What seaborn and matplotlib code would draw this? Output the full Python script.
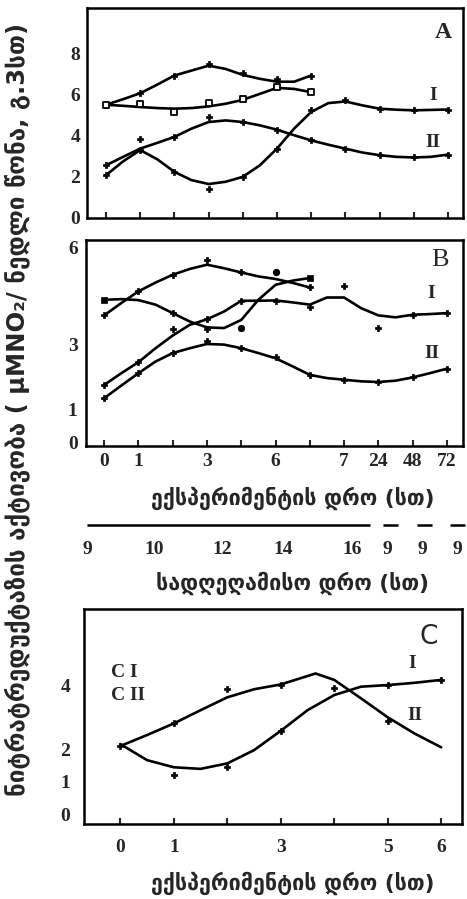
import matplotlib
matplotlib.use("Agg")
import matplotlib.pyplot as plt
import seaborn as sns

sns.set_style("white")
plt.rcParams["font.family"] = ["DejaVu Sans"]

# ---- panel A : time-course of nitrate reductase activity ----
a_grid_short = [0, 0.5, 1, 1.5, 2, 2.5, 3, 3.5, 4, 4.5, 5, 5.5, 6]
a_grid_long = [0, 0.5, 1, 1.5, 2, 2.5, 3, 3.5, 4, 4.5, 5, 5.5, 6, 6.5, 7, 7.5, 8, 8.5, 9, 9.5, 10]
a_top_line = [5.50, 5.77, 6.06, 6.48, 6.92, 7.16, 7.40, 7.24, 6.95, 6.76, 6.62, 6.62, 6.92]
a_open_line = [5.50, 5.45, 5.39, 5.34, 5.31, 5.34, 5.42, 5.55, 5.74, 6.03, 6.32, 6.27, 6.11]
a_I_line = [2.08, 2.75, 3.30, 2.85, 2.24, 1.84, 1.65, 1.76, 2.00, 2.56, 3.37, 4.34, 5.15,
            5.58, 5.66, 5.47, 5.31, 5.26, 5.23, 5.25, 5.27]
a_II_line = [2.56, 2.97, 3.37, 3.65, 3.94, 4.34, 4.66, 4.74, 4.66, 4.50, 4.29, 4.02, 3.77,
             3.56, 3.37, 3.18, 3.05, 2.97, 2.94, 2.97, 3.08]
a_pts_short = [0, 1, 2, 3, 4, 5, 6]
a_pts_long = [0, 1, 2, 3, 4, 5, 6, 7, 8, 9, 10]
a_top_pts = [5.50, 6.06, 6.92, 7.48, 7.05, 6.76, 6.92]
a_open_pts = [5.50, 5.55, 5.15, 5.58, 5.77, 6.35, 6.11]
a_I_pts = [2.08, 3.29, 2.24, 1.39, 2.00, 3.37, 5.23, 5.71, 5.31, 5.23, 5.27]
a_II_pts = [2.56, 3.84, 3.94, 4.90, 4.66, 4.29, 3.77, 3.37, 3.05, 2.94, 3.08]
a_yticks = [0, 2, 4, 6, 8]

# ---- panel B ----
b_top_line = [3.90, 4.28, 4.64, 4.91, 5.15, 5.33, 5.46, 5.35, 5.22, 5.10, 5.02, 4.90, 4.76]
b_sq_line = [4.38, 4.40, 4.37, 4.23, 3.97, 3.71, 3.53, 3.51, 3.76, 4.38, 4.84, 4.97, 5.05]
b_I_line = [1.76, 2.12, 2.46, 2.89, 3.28, 3.61, 3.78, 4.02, 4.35, 4.35, 4.36, 4.30, 4.23,
            4.45, 4.45, 4.12, 3.90, 3.84, 3.92, 3.94, 3.97]
b_II_line = [1.35, 1.74, 2.12, 2.48, 2.74, 2.89, 3.02, 3.00, 2.89, 2.74, 2.58, 2.33, 2.07,
             1.97, 1.92, 1.87, 1.85, 1.89, 1.99, 2.12, 2.26]
b_top_pts = [3.90, 4.64, 5.15, 5.61, 5.22, 5.22, 4.76]
b_sq_idx = [2, 3]
b_sq_pts = [3.97, 3.49]
b_sq_ends_idx = [0, 6]
b_sq_ends = [4.38, 5.05]
b_dot_idx = [4, 5]
b_dot_pts = [3.51, 5.22]
b_I_pts = [1.76, 2.46, 3.49, 3.78, 4.35, 4.33, 4.15, 4.79, 3.51, 3.92, 3.97]
b_II_pts = [1.35, 2.12, 2.74, 3.12, 2.89, 2.62, 2.07, 1.92, 1.85, 1.99, 2.26]
b_yticks = [0, 1, 3, 6]
exp_hours = ["0", "1", "", "3", "", "6", "", "7", "24", "48", "72"]
day_hours = ["9", "10", "12", "14", "16", "9", "9", "9"]
day_pos = [-0.5, 1.45, 3.43, 5.21, 7.22, 8.24, 9.26, 10.28]

# ---- panel C ----
c_grid = [0, 0.5, 1, 1.5, 2, 2.5, 3, 3.5, 4, 4.5, 5, 5.5, 6]
c_I_line = [2.17, 1.67, 1.45, 1.40, 1.57, 1.98, 2.58, 3.22, 3.69, 3.95, 4.00, 4.07, 4.16]
c_II_x = [0, 0.5, 1, 1.5, 2, 2.5, 3, 3.5, 3.65, 4, 4.5, 5, 5.5, 6]
c_II_line = [2.11, 2.45, 2.81, 3.22, 3.62, 3.87, 4.02, 4.28, 4.36, 4.16, 3.59, 3.00, 2.50, 2.07]
c_I_idx = [0, 1, 2, 3, 4, 5, 6]
c_I_pts = [2.10, 1.21, 1.45, 2.58, 3.90, 4.00, 4.16]
c_II_idx = [1, 2, 3, 5]
c_II_pts = [2.81, 3.87, 4.00, 2.88]
c_yticks = [0, 1, 2, 4]
c_hours = ["0", "1", "", "3", "", "5", "6"]

W, H = 467, 899
fig = plt.figure(figsize=(W / 100, H / 100), dpi=100)


def rect(left, top, right, bottom):
    return [left / W, 1 - bottom / H, (right - left) / W, (bottom - top) / H]


num_font = dict(family="Liberation Serif", weight="bold", size=14)
geo_font = dict(family="DejaVu Sans", weight="bold", size=15.5)
LW = 1.9


def curve(ax, x, y):
    sns.lineplot(x=x, y=y, ax=ax, color="black", linewidth=LW, sort=False,
                 estimator=None, solid_joinstyle="round", solid_capstyle="round")


def marks(ax, x, y, marker="+", s=28, lw=1.5, fc="black"):
    sns.scatterplot(x=x, y=y, ax=ax, marker=marker, s=s, color="black",
                    facecolor=fc, edgecolor="black", linewidth=lw, zorder=5)


def frame(ax):
    for sp in ax.spines.values():
        sp.set_visible(True)
        sp.set_linewidth(1.8)
        sp.set_color("black")
    ax.tick_params(axis="x", direction="in", length=4, width=1.5, bottom=True)
    ax.tick_params(axis="y", length=0)
    ax.set_xlabel("")
    ax.set_ylabel("")


# Panel A
axA = fig.add_axes(rect(87, 8, 463, 218))
curve(axA, a_grid_short, a_top_line)
curve(axA, a_grid_short, a_open_line)
curve(axA, a_grid_long, a_I_line)
curve(axA, a_grid_long, a_II_line)
marks(axA, a_pts_short, a_top_pts, marker="P", s=20, lw=0.5)
marks(axA, a_pts_short, a_open_pts, marker="s", s=14, lw=1.3, fc="white")
marks(axA, a_pts_long, a_I_pts, marker="P", s=16, lw=0.5)
marks(axA, a_pts_long, a_II_pts, marker="P", s=16, lw=0.5)
axA.set_xlim(-0.556, 10.44)
axA.set_ylim(0, 10.2)
axA.set_xticks(a_pts_long)
axA.set_xticklabels([])
axA.set_yticks(a_yticks)
axA.set_yticklabels([str(v) for v in a_yticks], fontdict=num_font)
axA.tick_params(axis="y", pad=5)
frame(axA)
axA.text(9.85, 9.03, "A", fontdict=dict(family="Liberation Serif", weight="bold", size=17),
         ha="center", va="center")
axA.text(9.56, 5.97, "I", fontdict=num_font, ha="center", va="center")
axA.text(9.56, 3.69, "II", fontdict=num_font, ha="center", va="center")

# Panel B
axB = fig.add_axes(rect(86, 240, 463, 446))
curve(axB, a_grid_short, b_top_line)
curve(axB, a_grid_short, b_sq_line)
curve(axB, a_grid_long, b_I_line)
curve(axB, a_grid_long, b_II_line)
marks(axB, a_pts_short, b_top_pts, marker="P", s=18, lw=0.5)
marks(axB, b_sq_idx, b_sq_pts, marker="P", s=18, lw=0.5)
marks(axB, b_sq_ends_idx, b_sq_ends, marker="s", s=20, lw=0.5)
marks(axB, b_dot_idx, b_dot_pts, marker="o", s=22, lw=0.5)
marks(axB, a_pts_long, b_I_pts, marker="P", s=16, lw=0.5)
marks(axB, a_pts_long, b_II_pts, marker="P", s=14, lw=0.5)
axB.set_xlim(-0.53, 10.47)
axB.set_ylim(-0.12, 6.22)
axB.set_xticks(a_pts_long)
axB.set_xticklabels(exp_hours, fontdict=num_font)
axB.set_yticks(b_yticks)
axB.set_yticklabels([str(v) for v in b_yticks], fontdict=num_font)
axB.tick_params(axis="y", pad=6)
frame(axB)
axB.tick_params(axis="x", pad=5)
axB.text(9.79, 5.6, "B", fontdict=dict(family="Liberation Serif", size=19),
         ha="center", va="center")
axB.text(9.55, 4.58, "I", fontdict=num_font, ha="center", va="center")
axB.text(9.55, 2.74, "II", fontdict=num_font, ha="center", va="center")

# Time-of-day scale under panel B
axD = fig.add_axes(rect(86, 520, 467, 530))
axD.set_xlim(-0.53, 10.57)
axD.set_ylim(-1, 1)
axD.hlines(0, -0.5, 7.75, color="black", linewidth=1.8)
for x0, x1 in [(8.13, 8.57), (9.12, 9.56), (10.08, 10.52)]:
    axD.hlines(0, x0, x1, color="black", linewidth=1.8)
for sp in axD.spines.values():
    sp.set_visible(False)
axD.set_yticks([])
axD.set_xticks(day_pos)
axD.set_xticklabels(day_hours, fontdict=num_font)
axD.tick_params(axis="x", length=0, pad=8)

# Panel C
axC = fig.add_axes(rect(84, 609, 462, 824))
curve(axC, c_grid, c_I_line)
curve(axC, c_II_x, c_II_line)
marks(axC, c_I_idx, c_I_pts, marker="P", s=18, lw=0.5)
marks(axC, c_II_idx, c_II_pts, marker="P", s=14, lw=0.5)
axC.set_xlim(-0.68, 6.39)
axC.set_ylim(-0.31, 6.36)
axC.set_xticks(c_I_idx)
axC.set_xticklabels(c_hours, fontdict=num_font)
axC.set_yticks(c_yticks)
axC.set_yticklabels([str(v) for v in c_yticks], fontdict=num_font)
axC.tick_params(axis="y", pad=10)
frame(axC)
axC.tick_params(axis="x", pad=11)
axC.text(5.76, 5.49, "C", fontdict=dict(family="DejaVu Sans", size=19),
         ha="center", va="center")
axC.text(5.46, 4.68, "I", fontdict=num_font, ha="center", va="center")
axC.text(5.50, 3.07, "II", fontdict=num_font, ha="center", va="center")
axC.text(-0.17, 4.40, "C I", fontdict=num_font, ha="left", va="center")
axC.text(-0.17, 3.69, "C II", fontdict=num_font, ha="left", va="center")

# Shared captions
fig.text(293 / W, 1 - 498 / H, "ექსპერიმენტის დრო (სთ)", ha="center", va="center", **geo_font)
fig.text(293 / W, 1 - 583 / H, "სადღეღამისო დრო (სთ)", ha="center", va="center", **geo_font)
fig.text(293 / W, 1 - 883 / H, "ექსპერიმენტის დრო (სთ)", ha="center", va="center", **geo_font)
fig.text(17 / W, 1 - 409 / H, "ნიტრატრედუქტაზის აქტივობა ( μMNO₂/ ნედლი წონა, გ.3სთ)",
         rotation=90, ha="center", va="center", family="DejaVu Sans", weight="bold",
         size=17.5)

fig.savefig("out.png", dpi=100)
